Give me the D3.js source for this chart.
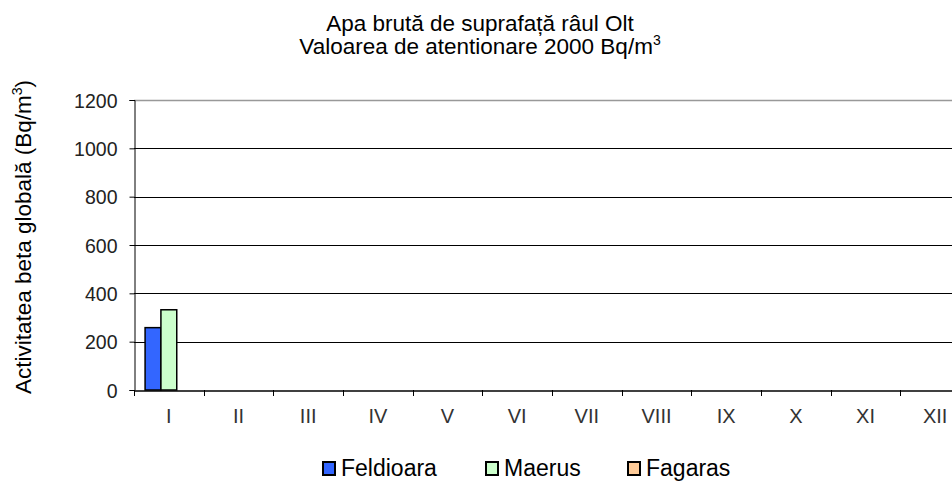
<!DOCTYPE html>
<html><head><meta charset="utf-8">
<script src="https://cdn.jsdelivr.net/npm/d3@7"></script>
<style>body{margin:0;background:#fff}svg{display:block;font-family:"Liberation Sans",Arial,sans-serif}</style>
</head><body>
<svg id="c" width="952" height="481"></svg>
<script>
const categories = ["I","II","III","IV","V","VI","VII","VIII","IX","X","XI","XII"];
const seriesNames = ["Feldioara","Maerus","Fagaras"];
const feldioara = [258,null,null,null,null,null,null,null,null,null,null,null];
const maerus = [332,null,null,null,null,null,null,null,null,null,null,null];
const fagaras = [null,null,null,null,null,null,null,null,null,null,null,null];
const yTicks = [0,200,400,600,800,1000,1200];
const colors = ["#3366ff","#ccffcc","#ffcc99"];

const FONT = "Liberation Sans, Arial, sans-serif";
const svg = d3.select("#c");
const pLeft = 134, pRight = 970, pTop = 100, pBottom = 390;
const x = d3.scaleBand().domain(categories).range([pLeft,pRight]);
const y = d3.scaleLinear().domain([0,1200]).range([pBottom,pTop]);
const inner = d3.scaleBand().domain(seriesNames).range([0,x.bandwidth()]).paddingOuter(0.7);

// gridlines
svg.append("g").selectAll("line").data(yTicks.filter(d=>d>0)).join("line")
  .attr("x1",pLeft).attr("x2",952).attr("y1",d=>Math.round(y(d))+0.5).attr("y2",d=>Math.round(y(d))+0.5)
  .attr("stroke",d=>d===1200?"#999":"#000").attr("stroke-width",d=>d===1200?1.5:1);

// bars
const data = [feldioara,maerus,fagaras];
seriesNames.forEach((s,i)=>{
  svg.append("g").selectAll("rect").data(categories.map((c,j)=>({c,v:data[i][j]})).filter(d=>d.v!=null)).join("rect")
    .attr("x",d=>x(d.c)+inner(s)).attr("width",inner.bandwidth())
    .attr("y",d=>y(d.v)).attr("height",d=>y(0)-y(d.v))
    .attr("fill",colors[i]).attr("stroke","#000").attr("stroke-width",1.5);
});

// y axis
const ya = svg.append("g").attr("transform",`translate(${pLeft+0.5},0)`)
  .call(d3.axisLeft(y).tickValues(yTicks).tickFormat(d3.format("d")).tickSize(5).tickPadding(12));
ya.attr("font-size",null).attr("font-family",null);
ya.select(".domain").attr("stroke","#000");
ya.selectAll("text").attr("font-size","19.5px").attr("fill","#222").attr("font-family",FONT).attr("dy","0.36em");

// x axis
const xa = svg.append("g").attr("transform",`translate(0,${pBottom+0.5})`)
  .call(d3.axisBottom(x).tickSize(0).tickPadding(18));
xa.attr("font-size",null).attr("font-family",null);
xa.select(".domain").attr("stroke","#000").attr("stroke-width",1.5);
xa.selectAll("text").attr("font-size","20px").attr("fill","#333").attr("font-family",FONT);
svg.append("g").selectAll("line").data(categories).join("line")
  .attr("x1",d=>Math.round(x(d))+0.5).attr("x2",d=>Math.round(x(d))+0.5)
  .attr("y1",pBottom).attr("y2",pBottom+6).attr("stroke","#000");

// title
const t = svg.append("text").attr("text-anchor","middle").attr("font-size","22.5px").attr("fill","#000").attr("font-family",FONT);
t.append("tspan").attr("x",480).attr("y",31).text("Apa brută de suprafață râul Olt");
const t2 = svg.append("text").attr("text-anchor","middle").attr("font-size","22.5px").attr("fill","#000").attr("font-family",FONT)
  .attr("x",480).attr("y",54);
t2.append("tspan").text("Valoarea de atentionare 2000 Bq/m");
t2.append("tspan").attr("dy",-9).attr("font-size","14px").text("3");

// y label
const yl = svg.append("text").attr("transform","translate(31,237) rotate(-90)").attr("text-anchor","middle")
  .attr("font-size","22.5px").attr("fill","#000").attr("font-family",FONT);
yl.append("tspan").text("Activitatea beta globală (Bq/m");
yl.append("tspan").attr("dy",-9).attr("font-size","14px").text("3");
yl.append("tspan").attr("dy",9).text(")");

// legend
const legX = [323,486,628];
const lg = svg.append("g").selectAll("g").data(seriesNames).join("g")
  .attr("transform",(d,i)=>`translate(${legX[i]},462)`);
lg.append("rect").attr("x",0).attr("y",0).attr("width",12).attr("height",13)
  .attr("fill",(d,i)=>colors[i]).attr("stroke","#000").attr("stroke-width",2);
lg.append("text").attr("x",18).attr("y",14).attr("font-size","23px").attr("fill","#000").attr("font-family",FONT).text(d=>d);
</script>
</body></html>
